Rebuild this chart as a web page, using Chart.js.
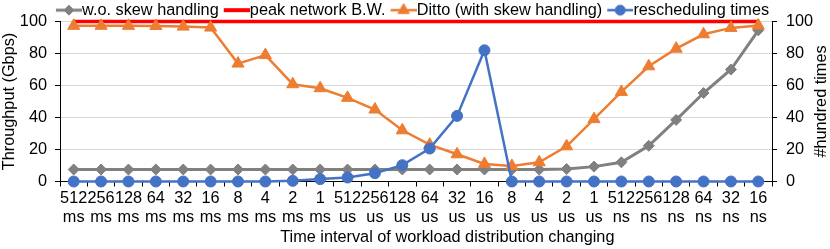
<!DOCTYPE html>
<html>
<head>
<meta charset="utf-8">
<script src="https://cdn.jsdelivr.net/npm/chart.js@4.4.0/dist/chart.umd.min.js"></script>
<style>
  html, body { margin: 0; padding: 0; background: #fff; }
  #wrap { width: 830px; height: 249px; }
</style>
</head>
<body>
<div id="wrap"><canvas id="chart" width="830" height="249"></canvas></div>
<script>
// time interval of workload distribution changing (value + unit, shown on two lines)
const intervals = ['512', '256', '128', '64', '32', '16', '8', '4', '2', '1',
                   '512', '256', '128', '64', '32', '16', '8', '4', '2', '1',
                   '512', '256', '128', '64', '32', '16'];
const units = ['ms', 'ms', 'ms', 'ms', 'ms', 'ms', 'ms', 'ms', 'ms', 'ms',
               'us', 'us', 'us', 'us', 'us', 'us', 'us', 'us', 'us', 'us',
               'ns', 'ns', 'ns', 'ns', 'ns', 'ns'];

// throughput (Gbps), left axis
const woSkew = [7.5, 7.5, 7.5, 7.5, 7.5, 7.5, 7.5, 7.5, 7.5, 7.5, 7.5, 7.5, 7.5,
                7.5, 7.5, 7.5, 7.5, 7.5, 7.8, 9.3, 12, 22.3, 38.5, 55.3, 70, 94.5];
const peakBW = [100, 100, 100, 100, 100, 100, 100, 100, 100, 100, 100, 100, 100,
                100, 100, 100, 100, 100, 100, 100, 100, 100, 100, 100, 100, 100];
const ditto = [97.3, 97.3, 97.3, 97.2, 96.8, 96.2, 73.7, 79, 60.8, 58.3, 52.3, 45, 32,
               23, 17, 11, 9.7, 12, 22, 39, 56, 72, 83, 92, 96, 97.5];
// rescheduling times (#hundred times), right axis
const resched = [0, 0, 0, 0, 0, 0, 0, 0, 0.4, 1.5, 2.5, 5.2, 10.2,
                 20.6, 41, 82, 0, 0, 0, 0, 0, 0, 0, 0, 0, 0];

const X_TITLE = 'Time interval of workload distribution changing';
const Y_TITLE = 'Throughput (Gbps)';
const Y2_TITLE = '#hundred times';

const FONT = '"Liberation Sans", Arial, sans-serif';
const FONT_SIZE = 16.3;
const C = {
  gray: '#808080',
  red: '#ff0000',
  orange: '#ed7d31',
  blue: '#4472c4',
  grid: '#d9d9d9',
  text: '#000000',
};

Chart.defaults.font.family = FONT;
Chart.defaults.font.size = FONT_SIZE;
Chart.defaults.color = C.text;

// line + marker icon for the legend, drawn to the right part of a small canvas
function legendIcon(color, lineWidth, pointStyle, radius) {
  const c = document.createElement('canvas');
  c.width = 37; c.height = 16;
  const g = c.getContext('2d');
  g.strokeStyle = color;
  g.fillStyle = color;
  g.lineWidth = lineWidth;
  g.beginPath(); g.moveTo(11, 8); g.lineTo(37, 8); g.stroke();
  if (pointStyle) {
    g.lineWidth = 1;
    Chart.helpers.drawPoint(g, { pointStyle, radius, rotation: 0, borderWidth: 1 }, 24, 8);
  }
  return c;
}

const icons = [
  legendIcon(C.gray, 3, 'rectRot', 5),
  legendIcon(C.red, 4, null, 0),
  legendIcon(C.orange, 2.5, 'triangle', 6.5),
  legendIcon(C.blue, 2.5, 'circle', 5),
];

const axisTitles = {
  id: 'axisTitles',
  afterDraw(chart) {
    const { ctx, chartArea: a } = chart;
    ctx.save();
    ctx.font = FONT_SIZE + 'px ' + FONT;
    ctx.fillStyle = C.text;
    ctx.textAlign = 'center';
    ctx.textBaseline = 'middle';
    ctx.fillText(X_TITLE, a.left + (a.right - a.left) * 0.544, 238);
    ctx.translate(822, (a.top + a.bottom) / 2);
    ctx.rotate(-Math.PI / 2);
    ctx.fillText(Y2_TITLE, 0, 0);
    ctx.restore();
  },
};

const labels = intervals.map((v, i) => [v, units[i]]);

new Chart(document.getElementById('chart'), {
  type: 'line',
  data: {
    labels,
    datasets: [
      {
        label: 'w.o. skew handling', data: woSkew, yAxisID: 'y', order: 3,
        borderColor: C.gray, backgroundColor: C.gray, borderWidth: 3,
        pointStyle: 'rectRot', pointRadius: 5.5, pointBorderWidth: 1, clip: false,
      },
      {
        label: 'peak network B.W.', data: peakBW, yAxisID: 'y', order: 4,
        borderColor: C.red, backgroundColor: C.red, borderWidth: 3.5,
        pointRadius: 0, clip: false,
      },
      {
        label: 'Ditto (with skew handling)', data: ditto, yAxisID: 'y', order: 2,
        borderColor: C.orange, backgroundColor: C.orange, borderWidth: 2.5,
        pointStyle: 'triangle', pointRadius: 7, pointBorderWidth: 1, clip: false,
      },
      {
        label: 'rescheduling times', data: resched, yAxisID: 'y1', order: 1,
        borderColor: C.blue, backgroundColor: C.blue, borderWidth: 2.5,
        pointStyle: 'circle', pointRadius: 5.5, pointBorderWidth: 1, clip: false,
      },
    ],
  },
  options: {
    responsive: false,
    animation: false,
    layout: { padding: { left: 0, top: 0, bottom: 0, right: 8 } },
    scales: {
      x: {
        offset: true,
        grid: { offset: true, drawOnChartArea: false, tickLength: 5, tickColor: '#000' },
        border: { color: '#000', width: 1 },
        ticks: { autoSkip: false, maxRotation: 0, padding: 3, font: { lineHeight: 1.13 } },
        afterFit: (s) => { s.height = 67.5; },
      },
      y: {
        position: 'left', min: 0, max: 100,
        ticks: { stepSize: 20, padding: 8 },
        grid: { color: C.grid, tickColor: '#000', tickLength: 5 },
        border: { color: '#000', width: 1 },
        title: { display: true, text: Y_TITLE, padding: 0 },
        afterFit: (s) => { s.width = 60; },
      },
      y1: {
        position: 'right', min: 0, max: 100,
        ticks: { stepSize: 20, padding: 9 },
        grid: { drawOnChartArea: false, tickColor: '#000', tickLength: 5 },
        border: { color: '#000', width: 1 },
        afterFit: (s) => { s.width = 50; },
      },
    },
    plugins: {
      tooltip: { enabled: false },
      legend: {
        position: 'top',
        maxHeight: 21.5,
        labels: {
          usePointStyle: true,
          pointStyleWidth: 21,
          padding: 2,
          color: C.text,
          generateLabels: (chart) => chart.data.datasets.map((ds, i) => ({
            text: ds.label,
            pointStyle: icons[i],
            datasetIndex: i,
            hidden: false,
            fontColor: C.text,
            lineWidth: 0,
          })),
        },
      },
    },
  },
  plugins: [axisTitles],
});
</script>
</body>
</html>
